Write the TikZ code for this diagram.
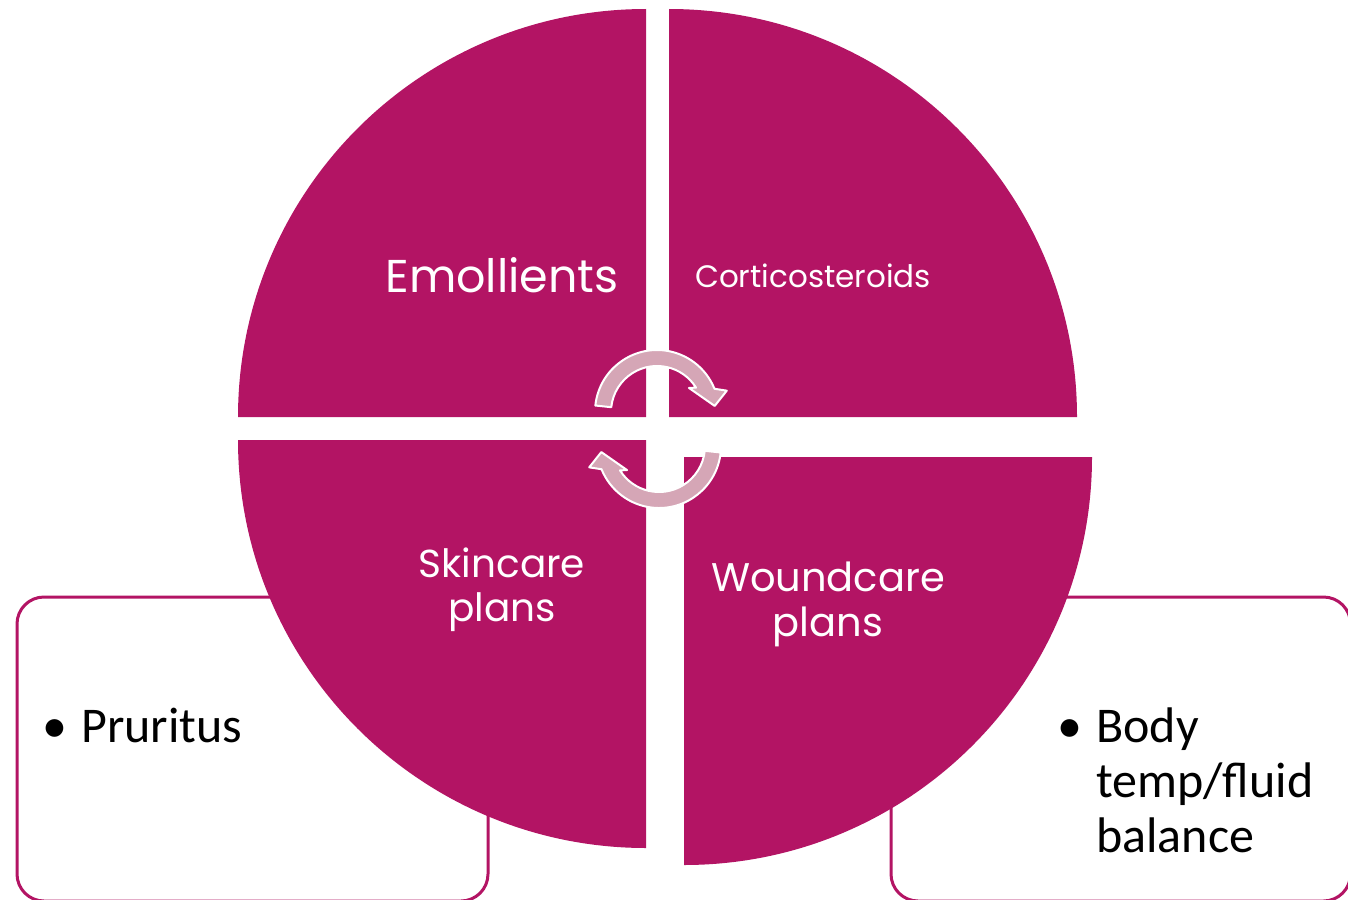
\documentclass[tikz,border=0pt]{standalone}
\usepackage{fontspec}
\setmainfont{Carlito}
\newfontfamily\gothic{Poppins}
\definecolor{berry}{RGB}{179,20,100}
\definecolor{rosefill}{RGB}{213,166,182}
\begin{document}
\begin{tikzpicture}[x=1pt,y=-1pt,
  wedge/.style={fill=berry},
  sidebox/.style={draw=berry,line width=3pt,rounded corners=27pt,fill=white},
  wedgelabel/.style={text=white,align=center,inner sep=0pt},
  bullettext/.style={text=black,inner sep=0pt,align=left,font=\fontsize{50}{55}\selectfont},
  cyclearrow/.pic={
    \path[fill=rosefill,draw=white,line width=2pt,line join=round]
      (174:62pt) arc[start angle=174,end angle=22,radius=62pt]
      -- (17:73pt) -- (6:58pt) -- (37:40pt) -- (32:46pt)
      arc[start angle=32,end angle=174,radius=46pt] -- cycle;
  }
]
\useasboundingbox (0,0) rectangle (1348,899);

% side boxes behind the circle
\draw[sidebox] (17,597) rectangle (488,901);
\draw[sidebox] (891,597) rectangle (1350.5,901);

% four quarter wedges
\fill[wedge] (646,417) -- (238,417) arc[start angle=180,end angle=90,radius=408pt] -- cycle;
\fill[wedge] (669,417) -- (669,9) arc[start angle=90,end angle=0,radius=408pt] -- cycle;
\fill[wedge] (646,440) -- (238,440) arc[start angle=180,end angle=270,radius=408pt] -- cycle;
\fill[wedge] (684,457) -- (1092,457) arc[start angle=0,end angle=-90,radius=408pt] -- cycle;

% circular arrows in the middle
\pic at (657,412) {cyclearrow};
\pic[rotate=180] at (659,446) {cyclearrow};

% wedge labels (base anchor of a multi-line node sits on its last line)
\node[wedgelabel,anchor=base,font=\gothic\fontsize{46}{50}\selectfont] (emol) at (502,292) {Emollients};
\node[wedgelabel,anchor=base,font=\gothic\fontsize{31}{36}\selectfont] (cort) at (813,287) {Corticosteroids};
\node[wedgelabel,anchor=base,font=\gothic\fontsize{39}{44}\selectfont] (skin) at (502,621) {Skincare\\plans};
\node[wedgelabel,anchor=base,font=\gothic\fontsize{40}{45}\selectfont] (wound) at (828,636) {Woundcare\\plans};

% box contents
\node[bullettext,anchor=base] (prbul) at (55,742) {•};
\node[bullettext,anchor=base west] (prtext) at (81,742) {Pruritus};
\node[bullettext,anchor=base] (bdbul) at (1070,742) {•};
\node[bullettext,anchor=base west] (bdtext) at (1096,852) {Body\\temp/fluid\\balance};
\end{tikzpicture}
\end{document}
